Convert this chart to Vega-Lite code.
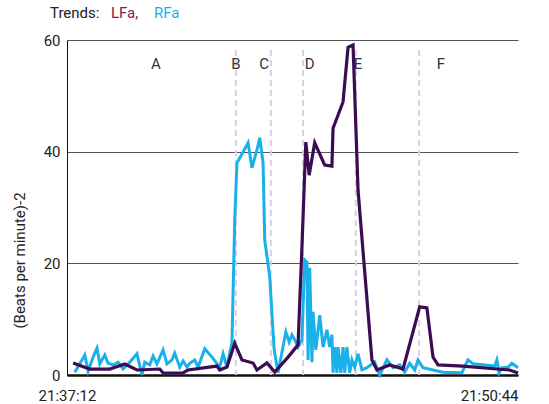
{
  "$schema": "https://vega.github.io/schema/vega-lite/v6.json",
  "width": 451,
  "height": 335,
  "autosize": {"type": "none"},
  "padding": {"left": 67, "top": 40, "right": 31, "bottom": 29},
  "background": "white",
  "config": {
    "view": {"stroke": null},
    "font": "Roboto",
    "axis": {"labelFont": "Roboto", "titleFont": "Roboto", "labelFontSize": 15, "titleFontSize": 15, "labelColor": "#222", "titleColor": "#222", "titleFontWeight": "normal"},
    "legend": {"labelFont": "Roboto", "titleFont": "Roboto", "labelFontSize": 15, "titleFontSize": 15, "titleFontWeight": "normal", "titleColor": "#222"}
  },
  "datasets": {
    "series": [
      {"s": 11, "v": 2.15, "k": "LFa"}, {"s": 41, "v": 1.07, "k": "LFa"}, {"s": 77, "v": 1.07, "k": "LFa"}, {"s": 104, "v": 1.97, "k": "LFa"},
      {"s": 126, "v": 0.9, "k": "LFa"}, {"s": 167, "v": 1.07, "k": "LFa"}, {"s": 173, "v": 0.36, "k": "LFa"}, {"s": 209, "v": 0.36, "k": "LFa"},
      {"s": 218, "v": 0.9, "k": "LFa"}, {"s": 270, "v": 1.6, "k": "LFa"}, {"s": 275, "v": 0.9, "k": "LFa"}, {"s": 288, "v": 1.43, "k": "LFa"},
      {"s": 302, "v": 5.7, "k": "LFa"}, {"s": 315, "v": 2.7, "k": "LFa"}, {"s": 335, "v": 2.15, "k": "LFa"}, {"s": 342, "v": 0.9, "k": "LFa"},
      {"s": 360, "v": 2.15, "k": "LFa"}, {"s": 374, "v": 0.54, "k": "LFa"}, {"s": 398, "v": 3.2, "k": "LFa"}, {"s": 416, "v": 5.4, "k": "LFa"},
      {"s": 423, "v": 22.9, "k": "LFa"}, {"s": 430, "v": 41.7, "k": "LFa"}, {"s": 436, "v": 35.8, "k": "LFa"}, {"s": 446, "v": 41.6, "k": "LFa"},
      {"s": 464, "v": 37.6, "k": "LFa"}, {"s": 477, "v": 37.4, "k": "LFa"}, {"s": 479, "v": 44.2, "k": "LFa"}, {"s": 497, "v": 48.9, "k": "LFa"},
      {"s": 506, "v": 58.7, "k": "LFa"}, {"s": 515, "v": 59.1, "k": "LFa"}, {"s": 524, "v": 33.1, "k": "LFa"}, {"s": 549, "v": 2.7, "k": "LFa"},
      {"s": 558, "v": 0.9, "k": "LFa"}, {"s": 581, "v": 1.8, "k": "LFa"}, {"s": 605, "v": 1.07, "k": "LFa"}, {"s": 635, "v": 12.2, "k": "LFa"},
      {"s": 648, "v": 12.0, "k": "LFa"}, {"s": 659, "v": 3.2, "k": "LFa"}, {"s": 668, "v": 1.8, "k": "LFa"}, {"s": 713, "v": 1.6, "k": "LFa"},
      {"s": 774, "v": 1.07, "k": "LFa"}, {"s": 797, "v": 0.9, "k": "LFa"}, {"s": 812, "v": 0.36, "k": "LFa"},
      {"s": 14, "v": 0.5, "k": "RFa"}, {"s": 23, "v": 2.0, "k": "RFa"}, {"s": 32, "v": 3.6, "k": "RFa"}, {"s": 38, "v": 0.7, "k": "RFa"},
      {"s": 47, "v": 3.2, "k": "RFa"}, {"s": 54, "v": 4.8, "k": "RFa"}, {"s": 59, "v": 2.0, "k": "RFa"}, {"s": 68, "v": 3.6, "k": "RFa"},
      {"s": 74, "v": 2.1, "k": "RFa"}, {"s": 83, "v": 1.8, "k": "RFa"}, {"s": 92, "v": 2.3, "k": "RFa"}, {"s": 101, "v": 1.1, "k": "RFa"},
      {"s": 113, "v": 2.3, "k": "RFa"}, {"s": 126, "v": 3.8, "k": "RFa"}, {"s": 135, "v": 0, "k": "RFa"}, {"s": 140, "v": 2.3, "k": "RFa"},
      {"s": 149, "v": 1.8, "k": "RFa"}, {"s": 155, "v": 3.4, "k": "RFa"}, {"s": 162, "v": 2.0, "k": "RFa"}, {"s": 173, "v": 4.5, "k": "RFa"},
      {"s": 180, "v": 2.0, "k": "RFa"}, {"s": 189, "v": 2.7, "k": "RFa"}, {"s": 194, "v": 3.9, "k": "RFa"}, {"s": 203, "v": 1.4, "k": "RFa"},
      {"s": 209, "v": 2.5, "k": "RFa"}, {"s": 216, "v": 1.4, "k": "RFa"}, {"s": 221, "v": 2.1, "k": "RFa"}, {"s": 230, "v": 2.7, "k": "RFa"},
      {"s": 236, "v": 1.4, "k": "RFa"}, {"s": 248, "v": 4.7, "k": "RFa"}, {"s": 261, "v": 3.2, "k": "RFa"}, {"s": 275, "v": 1.4, "k": "RFa"},
      {"s": 281, "v": 3.8, "k": "RFa"}, {"s": 288, "v": 1.4, "k": "RFa"}, {"s": 297, "v": 5.9, "k": "RFa"}, {"s": 302, "v": 27.8, "k": "RFa"},
      {"s": 306, "v": 38.0, "k": "RFa"}, {"s": 315, "v": 39.6, "k": "RFa"}, {"s": 326, "v": 41.6, "k": "RFa"}, {"s": 333, "v": 37.1, "k": "RFa"},
      {"s": 342, "v": 40.3, "k": "RFa"}, {"s": 347, "v": 42.5, "k": "RFa"}, {"s": 353, "v": 38.0, "k": "RFa"}, {"s": 356, "v": 24.2, "k": "RFa"},
      {"s": 365, "v": 17.6, "k": "RFa"}, {"s": 373, "v": 4.5, "k": "RFa"}, {"s": 380, "v": 0.4, "k": "RFa"}, {"s": 394, "v": 7.7, "k": "RFa"},
      {"s": 400, "v": 5.9, "k": "RFa"}, {"s": 405, "v": 7.2, "k": "RFa"}, {"s": 410, "v": 6.3, "k": "RFa"}, {"s": 416, "v": 5.0, "k": "RFa"},
      {"s": 423, "v": 6.3, "k": "RFa"}, {"s": 428, "v": 20.6, "k": "RFa"}, {"s": 432, "v": 20.2, "k": "RFa"}, {"s": 434, "v": 2.7, "k": "RFa"},
      {"s": 437, "v": 19.2, "k": "RFa"}, {"s": 441, "v": 2.3, "k": "RFa"}, {"s": 443, "v": 11.3, "k": "RFa"}, {"s": 448, "v": 4.5, "k": "RFa"},
      {"s": 455, "v": 10.7, "k": "RFa"}, {"s": 461, "v": 5.0, "k": "RFa"}, {"s": 468, "v": 8.1, "k": "RFa"}, {"s": 473, "v": 5.0, "k": "RFa"},
      {"s": 477, "v": 7.2, "k": "RFa"}, {"s": 479, "v": 0.4, "k": "RFa"}, {"s": 482, "v": 5.0, "k": "RFa"}, {"s": 486, "v": 0.4, "k": "RFa"},
      {"s": 488, "v": 5.0, "k": "RFa"}, {"s": 493, "v": 0.4, "k": "RFa"}, {"s": 497, "v": 5.0, "k": "RFa"}, {"s": 500, "v": 0.4, "k": "RFa"},
      {"s": 504, "v": 5.0, "k": "RFa"}, {"s": 509, "v": 0.4, "k": "RFa"}, {"s": 513, "v": 2.7, "k": "RFa"}, {"s": 518, "v": 1.4, "k": "RFa"},
      {"s": 524, "v": 3.8, "k": "RFa"}, {"s": 531, "v": 0.9, "k": "RFa"}, {"s": 540, "v": 1.3, "k": "RFa"}, {"s": 554, "v": 2.3, "k": "RFa"},
      {"s": 563, "v": 0, "k": "RFa"}, {"s": 576, "v": 2.7, "k": "RFa"}, {"s": 587, "v": 1.3, "k": "RFa"}, {"s": 599, "v": 1.8, "k": "RFa"},
      {"s": 608, "v": 0.5, "k": "RFa"}, {"s": 617, "v": 2.1, "k": "RFa"}, {"s": 626, "v": 0.9, "k": "RFa"}, {"s": 632, "v": 2.7, "k": "RFa"},
      {"s": 641, "v": 1.3, "k": "RFa"}, {"s": 659, "v": 0.9, "k": "RFa"}, {"s": 677, "v": 0.5, "k": "RFa"}, {"s": 711, "v": 0.4, "k": "RFa"},
      {"s": 722, "v": 2.7, "k": "RFa"}, {"s": 731, "v": 2.0, "k": "RFa"}, {"s": 770, "v": 1.6, "k": "RFa"}, {"s": 774, "v": 2.7, "k": "RFa"},
      {"s": 778, "v": 0.4, "k": "RFa"}, {"s": 783, "v": 1.3, "k": "RFa"}, {"s": 794, "v": 1.4, "k": "RFa"}, {"s": 801, "v": 2.1, "k": "RFa"},
      {"s": 812, "v": 1.3, "k": "RFa"}
    ],
    "markers": [
      {"s": 304, "label": "B"}, {"s": 367, "label": "C"}, {"s": 425, "label": "D"}, {"s": 520, "label": "E"}, {"s": 634, "label": "F"}
    ],
    "letters": [
      {"s": 160, "label": "A"}, {"s": 304, "label": "B"}, {"s": 355, "label": "C"}, {"s": 437, "label": "D"}, {"s": 524, "label": "E"}, {"s": 673, "label": "F"}
    ]
  },
  "encoding": {
    "x": {
      "field": "s", "type": "quantitative",
      "scale": {"domain": [0, 812], "nice": false, "zero": false},
      "axis": {
        "title": null, "values": [0, 812], "grid": false, "ticks": false,
        "domainColor": "#111", "domainWidth": 2.5, "labelPadding": 13,
        "labelAlign": {"condition": {"test": "datum.value > 400", "value": "right"}, "value": "center"},
        "labelExpr": "timeFormat(datetime(2000, 0, 1, 21, 37, 12 + datum.value), '%H:%M:%S')"
      }
    }
  },
  "layer": [
    {
      "data": {"name": "markers"},
      "mark": {"type": "rule", "strokeDash": [6, 4], "strokeWidth": 2, "color": "#d9cfe6"},
      "encoding": {
        "y": {"datum": 58.2, "type": "quantitative", "scale": {"domain": [0, 60], "nice": false},
          "axis": {"title": "(Beats per minute)-2", "values": [0, 20, 40, 60], "grid": true, "gridColor": "#555", "gridWidth": 1, "ticks": false, "domainColor": "#111", "domainWidth": 1, "labelPadding": 7, "titleY": 220, "titleX": -40}},
        "y2": {"datum": 0}
      }
    },
    {
      "data": {"name": "letters"},
      "mark": {"type": "text", "fontSize": 15, "color": "#333", "font": "Roboto"},
      "encoding": {
        "y": {"datum": 55.7, "type": "quantitative"},
        "text": {"field": "label"}
      }
    },
    {
      "data": {"name": "series"},
      "transform": [{"filter": "datum.k === 'RFa'"}],
      "mark": {"type": "line", "strokeWidth": 3, "strokeJoin": "miter", "strokeMiterLimit": 4},
      "encoding": {
        "y": {"field": "v", "type": "quantitative"},
        "color": {"field": "k", "type": "nominal",
          "scale": {"domain": ["LFa", "RFa"], "range": ["#3c0c52", "#1ab0ea"]},
          "legend": {
            "title": "Trends:", "orient": "none", "legendX": -17, "legendY": -35,
            "direction": "horizontal", "titleOrient": "left", "titlePadding": -4,
            "symbolType": "circle", "symbolSize": 1, "symbolStrokeWidth": 0, "symbolOpacity": 0, "symbolFillColor": "white",
            "labelOffset": 0, "columnPadding": -32,
            "labelExpr": "datum.value === 'LFa' ? 'LFa,' : 'RFa'",
            "encode": {"labels": {"update": {"fill": {"signal": "datum.value === 'LFa' ? '#8a1a45' : '#1ab0ea'"}}}}
          }}
      }
    },
    {
      "data": {"name": "series"},
      "transform": [{"filter": "datum.k === 'LFa'"}],
      "mark": {"type": "line", "strokeWidth": 3.2, "strokeJoin": "miter", "strokeMiterLimit": 4},
      "encoding": {
        "y": {"field": "v", "type": "quantitative"},
        "color": {"field": "k", "type": "nominal"}
      }
    }
  ]
}
